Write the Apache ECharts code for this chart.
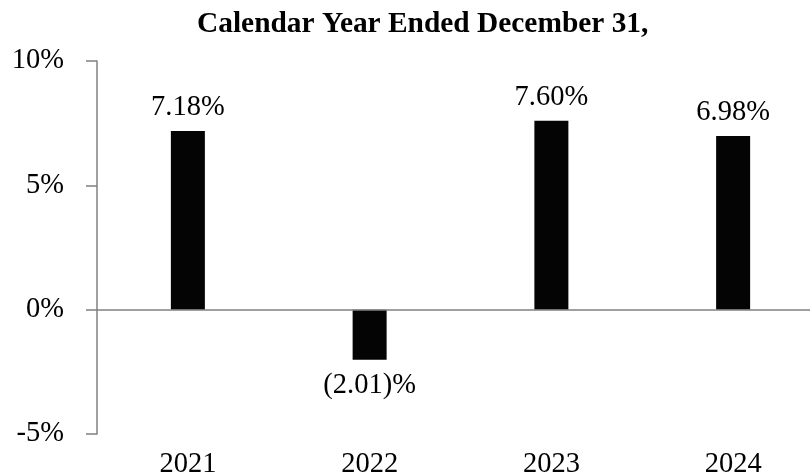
<!DOCTYPE html>
<html><head><meta charset="utf-8">
<script src="https://cdn.jsdelivr.net/npm/echarts@6/dist/echarts.min.js"></script>
<style>html,body{margin:0;padding:0;background:#fff}#c{width:810px;height:475px}</style>
</head><body><div id="c"></div>
<script>
const titleText = 'Calendar Year Ended December 31,';
const years = ['2021', '2022', '2023', '2024'];
const returns = [7.18, -2.01, 7.60, 6.98];
const yTicks = [-5, 0, 5, 10];

const FONT = "'Liberation Serif','Times New Roman',serif";
const FS = 28.5;
const fmt = v => v < 0 ? '(' + Math.abs(v).toFixed(2) + ')%' : v.toFixed(2) + '%';

const chart = echarts.init(document.getElementById('c'), null, {renderer: 'canvas'});
chart.setOption({
  animation: false,
  backgroundColor: '#fff',
  title: {
    text: titleText, left: 192, top: 5,
    textStyle: {fontFamily: FONT, fontWeight: 'bold', fontSize: 29.4, color: '#000'}
  },
  grid: {left: 97, right: -14, top: 61, bottom: 41, containLabel: false, outerBoundsMode: 'none'},
  xAxis: {
    type: 'category', data: years, position: 'bottom',
    axisLine: {show: false}, axisTick: {show: false},
    axisLabel: {fontFamily: FONT, fontSize: FS, color: '#000', margin: 16}
  },
  yAxis: {
    type: 'value', min: yTicks[0], max: yTicks[yTicks.length - 1], interval: 5,
    axisLine: {show: true, lineStyle: {color: '#808080', width: 1.5}},
    axisTick: {show: true, length: 11, lineStyle: {color: '#808080', width: 1.5}},
    splitLine: {show: false},
    axisLabel: {fontFamily: FONT, fontSize: FS, color: '#000', margin: 33,
      formatter: v => v + '%'}
  },
  series: [{
    type: 'bar', barWidth: 34,
    data: returns.map(v => v < 0 ? {value: v, label: {position: 'bottom', distance: 11}} : v),
    itemStyle: {color: '#040404'},
    label: {show: true, position: 'top', distance: 9, fontFamily: FONT, fontSize: FS, color: '#000',
      formatter: p => fmt(p.value)},
    markLine: {
      silent: true, symbol: 'none', label: {show: false},
      lineStyle: {color: '#808080', width: 1.5, type: 'solid'},
      data: [{yAxis: 0}]
    }
  }]
});
</script></body></html>
